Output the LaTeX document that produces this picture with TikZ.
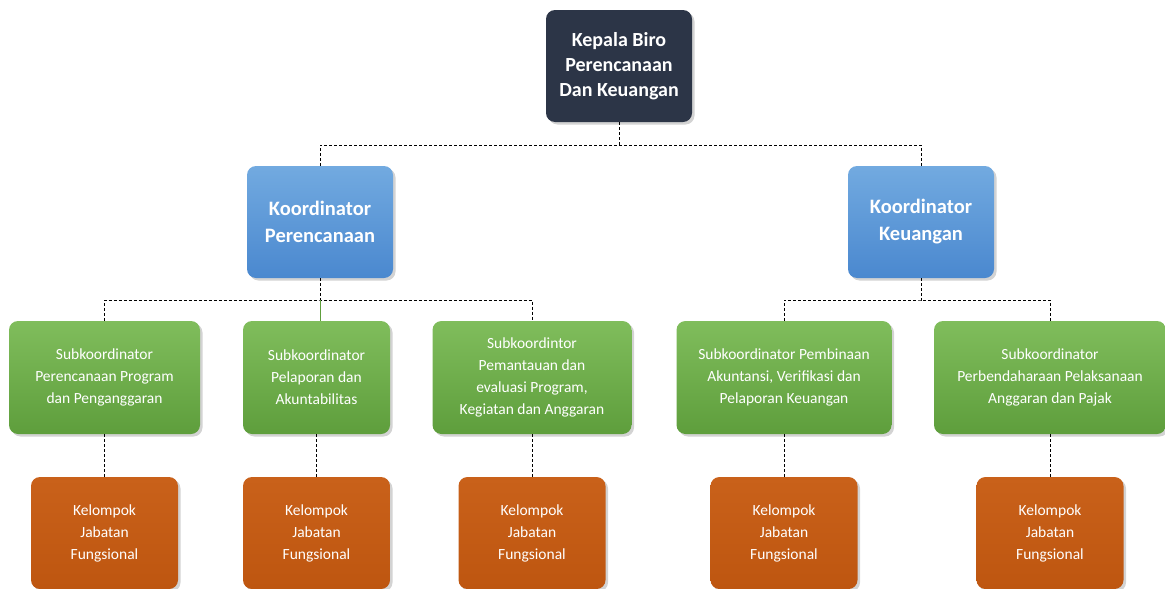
\documentclass[tikz,border=0pt]{standalone}
\usepackage{fontspec}
\setmainfont{Carlito}
\usetikzlibrary{shadows}
\definecolor{navy}{HTML}{2C3547}
\definecolor{blueT}{HTML}{72AAE0}
\definecolor{blueB}{HTML}{4A88CF}
\definecolor{greenT}{HTML}{80BD5C}
\definecolor{greenB}{HTML}{5E9E3C}
\definecolor{orgT}{HTML}{C9611A}
\definecolor{orgB}{HTML}{BE5610}
\tikzset{
  box/.style={rectangle, rounded corners=9pt, align=center, text=white, inner sep=2pt,
    drop shadow={shadow xshift=2.5pt, shadow yshift=-2.5pt, opacity=0.35}},
  topbox/.style={box, fill=navy, minimum width=146pt, minimum height=112pt,
    font=\fontsize{20}{25}\selectfont\bfseries},
  koordbox/.style={box, top color=blueT, bottom color=blueB, minimum width=146pt, minimum height=112pt,
    font=\fontsize{20.5}{27}\selectfont\bfseries},
  subbox/.style={box, top color=greenT, bottom color=greenB, minimum height=113pt,
    font=\fontsize{15.5}{22}\selectfont},
  kelbox/.style={box, top color=orgT, bottom color=orgB, minimum width=147pt, minimum height=112pt,
    font=\fontsize{15.5}{22}\selectfont},
  conn/.style={draw=black, line width=0.9pt, dash pattern=on 3pt off 2pt},
  greenline/.style={draw=greenB, line width=0.9pt}
}
\begin{document}
\begin{tikzpicture}[x=1pt,y=-1pt]
\useasboundingbox (0,0) rectangle (1165,589);
% nodes
\node[topbox] (top) at (619,66) {Kepala Biro\\Perencanaan\\Dan Keuangan};
\node[koordbox] (kp) at (320,222) {Koordinator\\Perencanaan};
\node[koordbox] (kk) at (921,222) {Koordinator\\Keuangan};
\node[subbox, minimum width=191pt] (g1) at (104.5,377.5) {Subkoordinator\\Perencanaan Program\\dan Penganggaran};
\node[subbox, minimum width=147pt] (g2) at (316.5,377.5) {Subkoordinator\\Pelaporan dan\\Akuntabilitas};
\node[subbox, minimum width=199pt] (g3) at (532,377.5) {Subkoordintor\\Pemantauan dan\\evaluasi Program,\\Kegiatan dan Anggaran};
\node[subbox, minimum width=215pt] (g4) at (784,377.5) {Subkoordinator Pembinaan\\Akuntansi, Verifikasi dan\\Pelaporan Keuangan};
\node[subbox, minimum width=232pt] (g5) at (1050,377.5) {Subkoordinator\\Perbendaharaan Pelaksanaan\\Anggaran dan Pajak};
\node[kelbox] (o1) at (104.5,533) {Kelompok\\Jabatan\\Fungsional};
\node[kelbox] (o2) at (316.5,533) {Kelompok\\Jabatan\\Fungsional};
\node[kelbox] (o3) at (532,533) {Kelompok\\Jabatan\\Fungsional};
\node[kelbox] (o4) at (784,533) {Kelompok\\Jabatan\\Fungsional};
\node[kelbox] (o5) at (1050,533) {Kelompok\\Jabatan\\Fungsional};
% bus coordinates
\coordinate (b0) at (619,145);
\coordinate (b1) at (320,300);
\coordinate (b2) at (921,300);
% connectors
\draw[conn] (top.south) -- (b0);
\draw[conn] (kp.north) |- (b0) -| (kk.north);
\draw[conn] (kp.south) -- (b1);
\draw[conn] (g1.north) |- (b1) -| (g3.north);
\draw[greenline] (b1) -- (b1 |- g2.north);
\draw[conn] (kk.south) -- (b2);
\draw[conn] (g4.north) |- (b2) -| (g5.north);
\foreach \i in {1,...,5}{\draw[conn] (g\i.south) -- (o\i.north);}
\end{tikzpicture}
\end{document}
